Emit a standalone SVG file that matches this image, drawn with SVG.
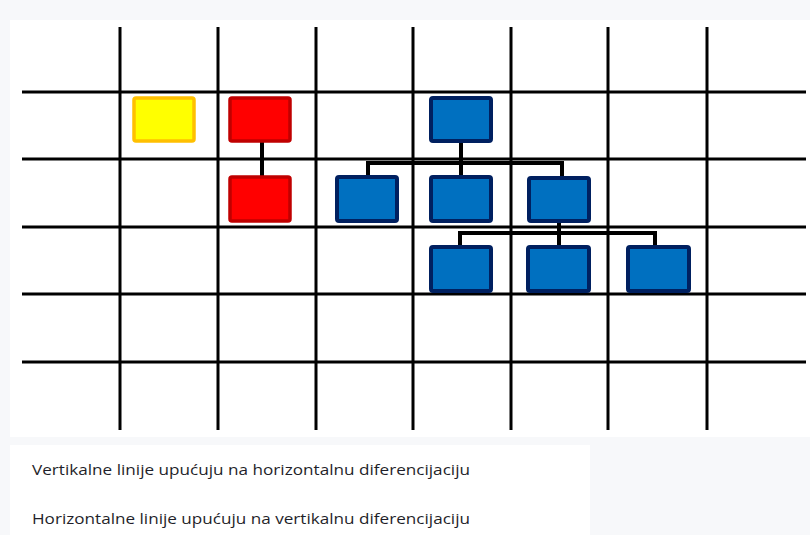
<svg xmlns="http://www.w3.org/2000/svg" width="810" height="535" viewBox="0 0 810 535">
<style>
.grid line{stroke:#000;stroke-width:3}
.blue{fill:#0070c0;stroke:#002060;stroke-width:4}
.red{fill:#ff0000;stroke:#c00000;stroke-width:3.5}
.yellow{fill:#ffff00;stroke:#ffc000;stroke-width:3.5}
.conn{fill:none;stroke:#000;stroke-width:4}
.lbl{font-family:"Open Sans","Liberation Sans",sans-serif;font-size:15px;fill:#1f1f2a}
</style>
<rect x="0" y="0" width="810" height="535" fill="#f7f8fa"/>
<rect x="10" y="20" width="800" height="417" fill="#ffffff"/>
<rect x="10" y="445" width="580" height="90" fill="#ffffff"/>
<g id="grid" class="grid">
<line x1="120" y1="27" x2="120" y2="430"/>
<line x1="218" y1="27" x2="218" y2="430"/>
<line x1="316" y1="27" x2="316" y2="430"/>
<line x1="413" y1="27" x2="413" y2="430"/>
<line x1="511" y1="27" x2="511" y2="430"/>
<line x1="608" y1="27" x2="608" y2="430"/>
<line x1="707" y1="27" x2="707" y2="430"/>
<line x1="22" y1="92" x2="806" y2="92"/>
<line x1="22" y1="159" x2="806" y2="159"/>
<line x1="22" y1="227" x2="806" y2="227"/>
<line x1="22" y1="294" x2="806" y2="294"/>
<line x1="22" y1="362" x2="806" y2="362"/>
</g>
<g id="connectors" class="conn">
<path d="M262 142 V176"/>
<path d="M461 142 V163 M368 163 H562 M368 161 V176 M461 163 V176 M562 161 V176"/>
<path d="M559 222 V233 M460 233 H655 M460 231 V246 M559 233 V246 M655 231 V246"/>
</g>
<g id="yellow1"><rect class="yellow" x="134" y="98" width="60" height="43" rx="2"/></g>
<g id="red1"><rect class="red" x="230" y="98" width="60" height="43" rx="2"/></g>
<g id="red2"><rect class="red" x="230" y="177" width="60" height="44" rx="2"/></g>
<g id="blue-top"><rect class="blue" x="431" y="98" width="60" height="43" rx="2"/></g>
<g id="blue-l2-1"><rect class="blue" x="337" y="177" width="60" height="44" rx="2"/></g>
<g id="blue-l2-2"><rect class="blue" x="431" y="177" width="60" height="44" rx="2"/></g>
<g id="blue-l2-3"><rect class="blue" x="529" y="178" width="60" height="43" rx="2"/></g>
<g id="blue-l3-1"><rect class="blue" x="431" y="247" width="60" height="44" rx="2"/></g>
<g id="blue-l3-2"><rect class="blue" x="528" y="247" width="61" height="44" rx="2"/></g>
<g id="blue-l3-3"><rect class="blue" x="628" y="247" width="61" height="44" rx="2"/></g>
<g id="legend">
<text class="lbl" x="32" y="475" textLength="438" lengthAdjust="spacingAndGlyphs">Vertikalne linije upućuju na horizontalnu diferencijaciju</text>
<text class="lbl" x="32" y="524" textLength="438" lengthAdjust="spacingAndGlyphs">Horizontalne linije upućuju na vertikalnu diferencijaciju</text>
</g>
</svg>
